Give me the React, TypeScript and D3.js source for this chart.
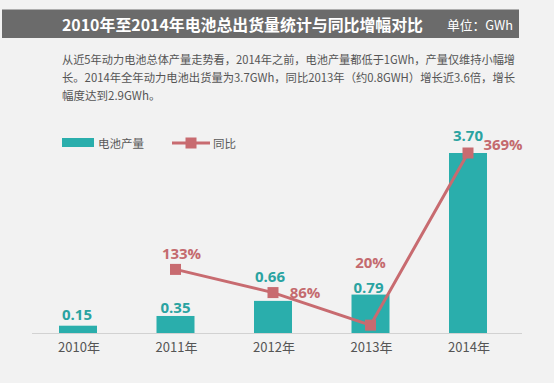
import React from 'react';
import * as d3 from 'd3';

const years = ['2010年', '2011年', '2012年', '2013年', '2014年'];
const output = [0.15, 0.35, 0.66, 0.79, 3.7];
const outputLabels = ['0.15', '0.35', '0.66', '0.79', '3.70'];
const growth: (number | null)[] = [null, 133, 86, 20, 369];
const growthLabels = ['', '133%', '86%', '20%', '369%'];
const title = '2010年至2014年电池总出货量统计与同比增幅对比';
const unit = '单位：GWh';
const desc = [
  '从近5年动力电池总体产量走势看，2014年之前，电池产量都低于1GWh，产量仅维持小幅增',
  '长。2014年全年动力电池出货量为3.7GWh，同比2013年（约0.8GWH）增长近3.6倍，增长',
  '幅度达到2.9GWh。',
];
const legendNames = ['电池产量', '同比'];

// label placement offsets (relative to mark)
const barLabelOffset = [[-1, -12], [0, -9], [-3, -25], [-2, -8], [0, -18]];
const growthLabelOffset = [[0, 0], [6, -16], [32, -1], [0, -63], [35, -9]];

const W = 554;
const H = 383;
const FONT = '"Noto Sans CJK SC", "Microsoft YaHei", sans-serif';
const TEAL = '#2aaeac';
const RED = '#c86b70';
const BG = '#f2f2f2';

export default function App() {
  const x = d3.scalePoint<string>().domain(years).range([78, 468]);
  const yBar = d3.scaleLinear().domain([0, 3.7]).range([333, 153]);
  const yLine = d3.scaleLinear().domain([0, 369]).range([335, 153]);
  const barW = 38;

  const linePts = years
    .map((yr, i) => ({ yr, v: growth[i], i }))
    .filter((d) => d.v !== null) as { yr: string; v: number; i: number }[];
  const lineGen = d3
    .line<{ yr: string; v: number }>()
    .x((d) => x(d.yr)!)
    .y((d) => yLine(d.v));

  const ms = 11;

  return (
    <svg
      width={W}
      height={H}
      style={{ position: 'absolute', left: 0, top: 0, display: 'block' }}
      fontFamily={FONT}
    >
      <rect x={0} y={0} width={W} height={H} fill={BG} />
      {/* header */}
      <rect x={2} y={9.5} width={517} height={28.5} fill="#6b6b6b" />
      <text
        x={62}
        y={24}
        fill="#ffffff"
        fontSize={16}
        fontWeight="bold"
        dominantBaseline="central"
        textLength={361}
        lengthAdjust="spacingAndGlyphs"
      >
        {title}
      </text>
      <text x={447} y={24} fill="#ffffff" fontSize={13} dominantBaseline="central" textLength={66} lengthAdjust="spacingAndGlyphs">
        {unit}
      </text>
      {/* description */}
      {desc.map((line, i) => (
        <text
          key={i}
          x={62}
          y={58.5 + i * 18}
          fill="#555555"
          fontSize={11.5}
          dominantBaseline="central"
          textLength={i < 2 ? 453 : undefined}
          lengthAdjust="spacingAndGlyphs"
        >
          {line}
        </text>
      ))}
      {/* legend */}
      <rect x={62} y={138} width={32} height={9} fill={TEAL} />
      <text x={98} y={142.5} fontSize={11.5} fill="#595959" dominantBaseline="central">
        {legendNames[0]}
      </text>
      <line x1={172} x2={210} y1={143} y2={143} stroke={RED} strokeWidth={3} />
      <rect x={191 - 5.5} y={143 - 5.5} width={11} height={11} fill={RED} />
      <text x={213} y={142.5} fontSize={11.5} fill="#595959" dominantBaseline="central">
        {legendNames[1]}
      </text>
      {/* axis line */}
      <line x1={32} x2={522} y1={333.5} y2={333.5} stroke="#d2d2d2" strokeWidth={1} />
      {/* bars */}
      {years.map((yr, i) => (
        <rect
          key={yr}
          x={x(yr)! - barW / 2}
          y={yBar(output[i])}
          width={barW}
          height={yBar(0) - yBar(output[i])}
          fill={TEAL}
        />
      ))}
      {/* bar labels */}
      {years.map((yr, i) => (
        <text
          key={'bl' + yr}
          x={x(yr)! + barLabelOffset[i][0]}
          y={yBar(output[i]) + barLabelOffset[i][1]}
          textAnchor="middle"
          dominantBaseline="central"
          fontSize={15}
          fontWeight="bold"
          fill="#2aa3a1"
          fontFamily="'Open Sans', 'Noto Sans', sans-serif"
        >
          {outputLabels[i]}
        </text>
      ))}
      {/* x axis labels */}
      {years.map((yr) => (
        <text
          key={'xl' + yr}
          x={x(yr)! + 1}
          y={346}
          textAnchor="middle"
          dominantBaseline="central"
          fontSize={13}
          fill="#555555"
        >
          {yr}
        </text>
      ))}
      {/* line */}
      <path d={lineGen(linePts) || ''} fill="none" stroke={RED} strokeWidth={3} />
      {linePts.map((d) => (
        <rect
          key={'m' + d.yr}
          x={x(d.yr)! - ms / 2}
          y={yLine(d.v) - ms / 2}
          width={ms}
          height={ms}
          fill={RED}
        />
      ))}
      {linePts.map((d) => (
        <text
          key={'gl' + d.yr}
          x={x(d.yr)! + growthLabelOffset[d.i][0]}
          y={yLine(d.v) + growthLabelOffset[d.i][1]}
          textAnchor="middle"
          dominantBaseline="central"
          fontSize={15}
          fontWeight="bold"
          fill="#c46a6e"
          fontFamily="'Open Sans', 'Noto Sans', sans-serif"
        >
          {growthLabels[d.i]}
        </text>
      ))}
    </svg>
  );
}
